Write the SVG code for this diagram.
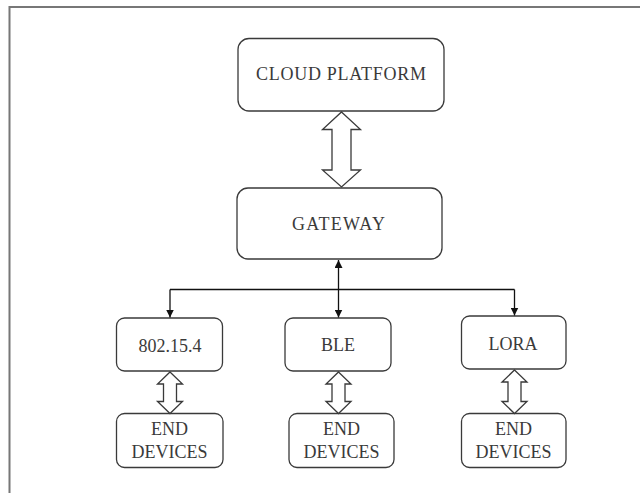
<svg xmlns="http://www.w3.org/2000/svg" width="640" height="493" viewBox="0 0 640 493">
  <style>
    .box { fill: #fff; stroke: #3a3a3a; stroke-width: 1.3; }
    .lbl { font-family: "Liberation Serif", "Times New Roman", serif; font-size: 18px; fill: #3a3a3a; text-anchor: middle; }
    .wire { fill: none; stroke: #111; stroke-width: 1.3; }
    .dbl { fill: #fff; stroke: #3a3a3a; stroke-width: 1.3; stroke-linejoin: miter; }
    .frame { fill: none; stroke: #777; stroke-width: 2; }
  </style>
  <defs>
    <marker id="tip" viewBox="0 0 10 10" refX="10" refY="5" markerWidth="8" markerHeight="8" markerUnits="userSpaceOnUse" orient="auto-start-reverse">
      <path d="M0,0 L10,5 L0,10 Z" fill="#111"/>
    </marker>
  </defs>

  <rect width="640" height="493" fill="#fff"/>
  <path class="frame" d="M9.5,493 V7 H640"/>

  <g id="cloud">
    <rect class="box" x="238" y="38.5" width="206" height="72.5" rx="11"/>
    <text class="lbl" x="341" y="80" textLength="170" lengthAdjust="spacing">CLOUD PLATFORM</text>
  </g>

  <g id="gateway">
    <rect class="box" x="237" y="188" width="205" height="71" rx="11"/>
    <text class="lbl" x="338.5" y="230" textLength="93" lengthAdjust="spacing">GATEWAY</text>
  </g>

  <g id="ieee802154">
    <rect class="box" x="116.5" y="318" width="106" height="53" rx="8"/>
    <text class="lbl" x="170" y="351.5">802.15.4</text>
  </g>

  <g id="ble">
    <rect class="box" x="285" y="318" width="106" height="53" rx="8"/>
    <text class="lbl" x="338" y="351">BLE</text>
  </g>

  <g id="lora">
    <rect class="box" x="461.5" y="316" width="104.5" height="53" rx="8"/>
    <text class="lbl" x="513" y="350">LORA</text>
  </g>

  <g id="end1">
    <rect class="box" x="116.5" y="413.5" width="106.5" height="54" rx="8"/>
    <text class="lbl" x="169.5" y="435">END</text>
    <text class="lbl" x="169.5" y="457.5">DEVICES</text>
  </g>

  <g id="end2">
    <rect class="box" x="289" y="413.5" width="105" height="54" rx="8"/>
    <text class="lbl" x="341.5" y="435">END</text>
    <text class="lbl" x="341.5" y="457.5">DEVICES</text>
  </g>

  <g id="end3">
    <rect class="box" x="461.5" y="413.5" width="104.5" height="54" rx="8"/>
    <text class="lbl" x="513.5" y="435">END</text>
    <text class="lbl" x="513.5" y="457.5">DEVICES</text>
  </g>

  <g id="connectors">
    <!-- cloud <-> gateway -->
    <polygon class="dbl" points="341.5,112 360.5,129.5 351,129.5 351,170 360.5,170 341.5,187 322.5,170 332,170 332,129.5 322.5,129.5"/>
    <!-- gateway bus to radios -->
    <line class="wire" x1="338.5" y1="260" x2="338.5" y2="317.5" marker-start="url(#tip)" marker-end="url(#tip)"/>
    <line class="wire" x1="170" y1="289.5" x2="514.5" y2="289.5"/>
    <line class="wire" x1="170" y1="289.5" x2="170" y2="317.5" marker-end="url(#tip)"/>
    <line class="wire" x1="514.5" y1="289.5" x2="514.5" y2="315.5" marker-end="url(#tip)"/>
    <!-- radios <-> end devices -->
    <polygon class="dbl" points="170,372 182.5,384 176.5,384 176.5,401.5 182.5,401.5 170,413.5 157.5,401.5 163.5,401.5 163.5,384 157.5,384"/>
    <polygon class="dbl" points="338.5,372 351,384 345,384 345,401.5 351,401.5 338.5,413.5 326,401.5 332,401.5 332,384 326,384"/>
    <polygon class="dbl" points="514.5,370 527,382 521,382 521,401.5 527,401.5 514.5,413.5 502,401.5 508,401.5 508,382 502,382"/>
  </g>
</svg>
